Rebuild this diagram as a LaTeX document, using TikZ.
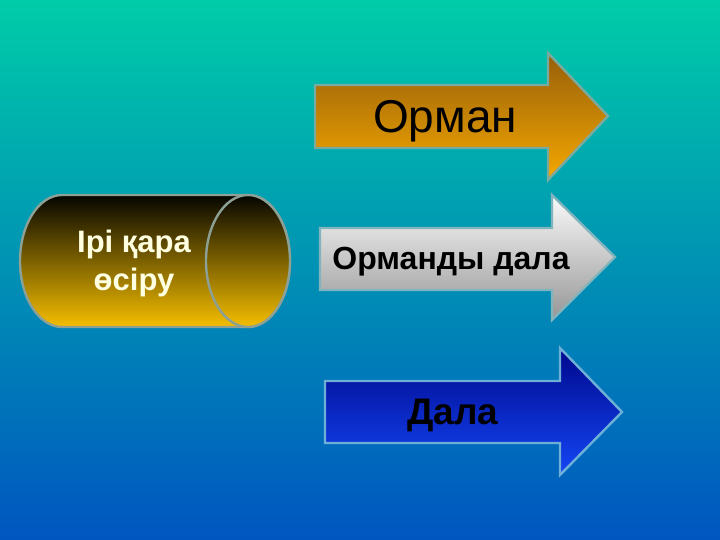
\documentclass[tikz,border=0pt]{standalone}
\usepackage{fontspec}
\setmainfont{Liberation Sans}
\definecolor{bgtop}{RGB}{0,204,168}
\definecolor{bgmid}{RGB}{8,164,190}
\definecolor{bgbot}{RGB}{0,86,192}
\definecolor{cyltop}{RGB}{5,5,0}
\definecolor{cylbot}{RGB}{245,190,0}
\definecolor{cylline}{RGB}{140,160,150}
\definecolor{cream}{RGB}{255,255,225}
\definecolor{ortop}{RGB}{150,95,10}
\definecolor{orbot}{RGB}{245,168,0}
\definecolor{orline}{RGB}{120,170,160}
\definecolor{sltop}{RGB}{250,250,250}
\definecolor{slbot}{RGB}{150,150,150}
\definecolor{slline}{RGB}{130,180,190}
\definecolor{bltop}{RGB}{0,8,140}
\definecolor{blbot}{RGB}{20,70,245}
\definecolor{blline}{RGB}{110,175,215}
\begin{document}
\begin{tikzpicture}[x=0.5pt,y=-0.5pt,
  arrowshape/.style={line width=1.2pt,line join=miter},
  label/.style={inner sep=0pt,align=center,text=black}]
\useasboundingbox (0,0) rectangle (720,540);
\shade[top color=bgtop,middle color=bgmid,bottom color=bgbot] (0,0) rectangle (720,540);
% cylinder
\path[draw=cylline,line width=1.2pt,top color=cyltop,bottom color=cylbot]
  (248,195) -- (62,195) arc[start angle=90,end angle=270,x radius=21pt,y radius=33pt]
  -- (248,327) arc[start angle=-90,end angle=90,x radius=21pt,y radius=33pt] -- cycle;
\path[draw=cylline,line width=1.2pt,top color=cyltop,bottom color=cylbot]
  (248,261) ellipse[x radius=21pt,y radius=33pt];
\node[inner sep=0pt,align=center,text=cream,font=\bfseries\fontsize{15.5}{19}\selectfont]
  (cyl) at (134,263) {Ірі қара\\өсіру};
% arrow 1
\path[arrowshape,draw=orline,top color=ortop,bottom color=orbot]
  (315,85) -- (548,85) -- (548,53) -- (608,116) -- (548,180) -- (548,148) -- (315,148) -- cycle;
\node[label,font=\fontsize{23}{27}\selectfont] (orman) at (445,121) {Орман};
% arrow 2
\path[arrowshape,draw=slline,top color=sltop,bottom color=slbot]
  (320,228) -- (552,228) -- (552,195) -- (615,257) -- (552,320) -- (552,290) -- (320,290) -- cycle;
\node[label,font=\bfseries\fontsize{16}{19}\selectfont] (ormandy) at (451,262) {Орманды дала};
% arrow 3
\path[arrowshape,draw=blline,top color=bltop,bottom color=blbot]
  (325,381) -- (560,381) -- (560,348) -- (622,412) -- (560,475) -- (560,443) -- (325,443) -- cycle;
\node[label,font=\bfseries\fontsize{18.5}{22}\selectfont] (dala) at (453,415) {Дала};
\end{tikzpicture}
\end{document}
